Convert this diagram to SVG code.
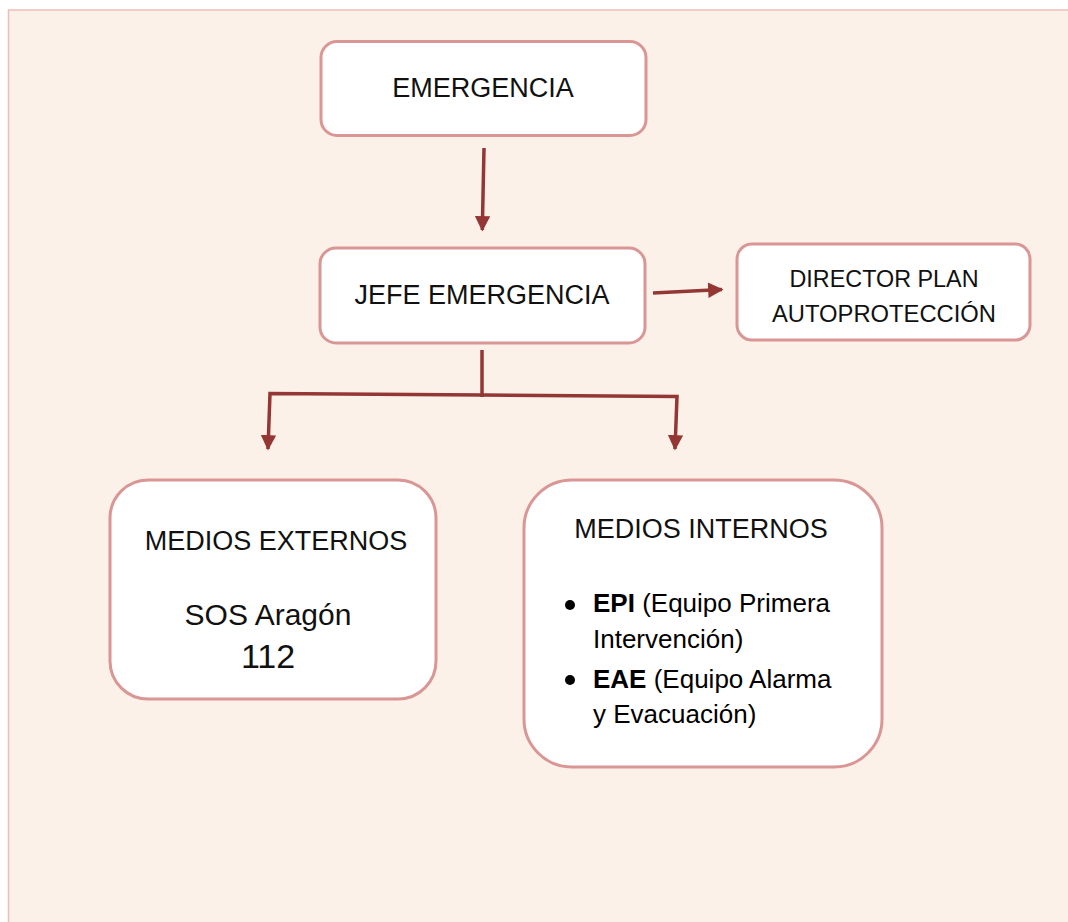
<svg xmlns="http://www.w3.org/2000/svg" width="1068" height="922" viewBox="0 0 1068 922">
<defs>
<style>
.box{fill:#ffffff;stroke:#d99694;stroke-width:3}
.conn{fill:none;stroke:#943634;stroke-width:3.5}
.h{font-family:"Liberation Sans",Arial,sans-serif;fill:#111111;text-anchor:middle}
.c{font-family:"Liberation Sans",Arial,sans-serif;fill:#000000}
</style>
<marker id="ah" viewBox="0 0 10 10" refX="9" refY="5" markerWidth="4.6" markerHeight="4.4" markerUnits="strokeWidth" orient="auto">
<path d="M0,0 L10,5 L0,10 Z" fill="#943634"/>
</marker>
</defs>
<rect x="0" y="0" width="1068" height="922" fill="#ffffff"/>
<rect x="8.5" y="10" width="1070" height="930" fill="#fcf1e9" stroke="#efbdb9" stroke-width="1.5"/>
<g id="connectors">
<path class="conn" d="M484,148 L482.3,230" marker-end="url(#ah)"/>
<path class="conn" d="M653,293 L722,289.5" marker-end="url(#ah)"/>
<path class="conn" d="M482,350 L482,397"/>
<path class="conn" d="M482,395 L270,393.5 L268,449" marker-end="url(#ah)"/>
<path class="conn" d="M482,395 L677,396.5 L675,449" marker-end="url(#ah)"/>
</g>
<g id="emergencia">
<rect class="box" x="321" y="41.5" width="325" height="94" rx="16"/>
<text class="h" x="483" y="97" font-size="27">EMERGENCIA</text>
</g>
<g id="jefe">
<rect class="box" x="320" y="248" width="325" height="95" rx="16"/>
<text class="h" x="482" y="304" font-size="27">JEFE EMERGENCIA</text>
</g>
<g id="director">
<rect class="box" x="737" y="244" width="293" height="96" rx="15"/>
<text class="h" x="884" y="287" font-size="24" textLength="189" lengthAdjust="spacingAndGlyphs">DIRECTOR PLAN</text>
<text class="h" x="884" y="322" font-size="24" textLength="224" lengthAdjust="spacingAndGlyphs">AUTOPROTECCIÓN</text>
</g>
<g id="externos">
<rect class="box" x="110" y="480" width="326" height="219" rx="38"/>
<text class="h" x="276" y="550" font-size="27">MEDIOS EXTERNOS</text>
<text class="h" x="268" y="625" font-size="30" fill="#000">SOS Aragón</text>
<text class="h" x="268" y="668" font-size="34" fill="#000">112</text>
</g>
<g id="internos">
<rect class="box" x="524" y="480" width="358" height="287" rx="48"/>
<text class="h" x="701" y="538" font-size="27">MEDIOS INTERNOS</text>
<circle cx="570" cy="605" r="5" fill="#000"/>
<text class="c" x="593" y="612" font-size="26"><tspan font-weight="bold">EPI</tspan> (Equipo Primera</text>
<text class="c" x="593" y="648" font-size="26">Intervención)</text>
<circle cx="570" cy="680" r="5" fill="#000"/>
<text class="c" x="593" y="688" font-size="26"><tspan font-weight="bold">EAE</tspan> (Equipo Alarma</text>
<text class="c" x="593" y="723" font-size="26">y Evacuación)</text>
</g>
</svg>
